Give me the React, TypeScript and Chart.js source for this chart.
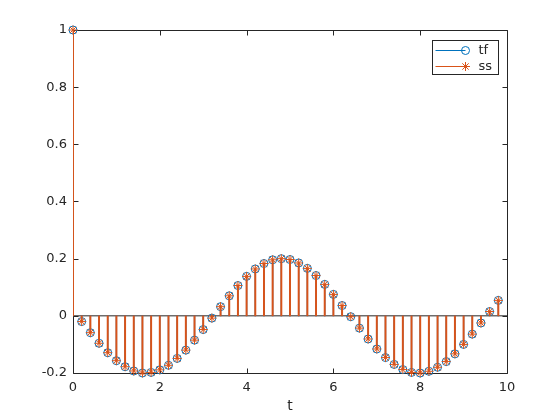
import React, { useEffect, useRef } from "react";
import { Chart, registerables } from "chart.js";

Chart.register(...registerables);

// ---- data ----
const timeSteps = [
  0, 0.2, 0.4, 0.6, 0.8, 1.0, 1.2, 1.4, 1.6, 1.8,
  2.0, 2.2, 2.4, 2.6, 2.8, 3.0, 3.2, 3.4, 3.6, 3.8,
  4.0, 4.2, 4.4, 4.6, 4.8, 5.0, 5.2, 5.4, 5.6, 5.8,
  6.0, 6.2, 6.4, 6.6, 6.8, 7.0, 7.2, 7.4, 7.6, 7.8,
  8.0, 8.2, 8.4, 8.6, 8.8, 9.0, 9.2, 9.4, 9.6, 9.8,
];

const tfResponse = [
  1, -0.020, -0.059, -0.096, -0.129, -0.157, -0.178, -0.193, -0.200, -0.198,
  -0.189, -0.173, -0.149, -0.120, -0.085, -0.048, -0.008, 0.032, 0.070, 0.106,
  0.138, 0.164, 0.183, 0.196, 0.200, 0.197, 0.185, 0.166, 0.141, 0.110,
  0.075, 0.036, -0.003, -0.043, -0.081, -0.116, -0.146, -0.170, -0.188, -0.198,
  -0.200, -0.194, -0.180, -0.160, -0.133, -0.100, -0.064, -0.025, 0.015, 0.054,
];

const ssResponse = [
  1, -0.020, -0.059, -0.096, -0.129, -0.157, -0.178, -0.193, -0.200, -0.198,
  -0.189, -0.173, -0.149, -0.120, -0.085, -0.048, -0.008, 0.032, 0.070, 0.106,
  0.138, 0.164, 0.183, 0.196, 0.200, 0.197, 0.185, 0.166, 0.141, 0.110,
  0.075, 0.036, -0.003, -0.043, -0.081, -0.116, -0.146, -0.170, -0.188, -0.198,
  -0.200, -0.194, -0.180, -0.160, -0.133, -0.100, -0.064, -0.025, 0.015, 0.054,
];

const xTickValues = [0, 2, 4, 6, 8, 10];
const yTickValues = [-0.2, 0, 0.2, 0.4, 0.6, 0.8, 1];
const seriesLabels = ["tf", "ss"];
const xAxisLabel = "t";
const baselineX = [0, 10];

// ---- styles ----
const BLUE = "#0072BD";
const ORANGE = "#D95319";
const AXIS = "#262626";
const FONT = "'DejaVu Sans', sans-serif";

function drawCircle(ctx: CanvasRenderingContext2D, x: number, y: number, r: number, color: string) {
  ctx.beginPath();
  ctx.strokeStyle = color;
  ctx.lineWidth = 1;
  ctx.arc(x, y, r, 0, Math.PI * 2);
  ctx.stroke();
}

function drawStar(ctx: CanvasRenderingContext2D, x: number, y: number, r: number, color: string) {
  const d = r * Math.cos(Math.PI / 4);
  ctx.beginPath();
  ctx.strokeStyle = color;
  ctx.lineWidth = 1;
  ctx.moveTo(x - r, y);
  ctx.lineTo(x + r, y);
  ctx.moveTo(x, y - r);
  ctx.lineTo(x, y + r);
  ctx.moveTo(x - d, y - d);
  ctx.lineTo(x + d, y + d);
  ctx.moveTo(x - d, y + d);
  ctx.lineTo(x + d, y - d);
  ctx.stroke();
}

const framePlugin = {
  id: "matlabFrame",
  beforeDatasetsDraw(chart: any) {
    const { ctx, chartArea } = chart;
    const { left, right, top, bottom } = chartArea;
    const xs = chart.scales.x;
    const ys = chart.scales.y;
    const L = Math.round(left) + 0.5;
    const R = Math.round(right) + 0.5;
    const T = Math.round(top) + 0.5;
    const B = Math.round(bottom) + 0.5;
    ctx.save();
    ctx.strokeStyle = AXIS;
    ctx.lineWidth = 1;
    ctx.beginPath();
    ctx.rect(L, T, R - L, B - T);
    ctx.stroke();
    const tl = 5;
    ctx.beginPath();
    for (const v of xTickValues) {
      const px = Math.round(xs.getPixelForValue(v)) + 0.5;
      ctx.moveTo(px, B);
      ctx.lineTo(px, B - tl);
      ctx.moveTo(px, T);
      ctx.lineTo(px, T + tl);
    }
    for (const v of yTickValues) {
      const py = Math.round(ys.getPixelForValue(v)) + 0.5;
      ctx.moveTo(L, py);
      ctx.lineTo(L + tl, py);
      ctx.moveTo(R, py);
      ctx.lineTo(R - tl, py);
    }
    ctx.stroke();
    ctx.restore();
  },
};

const legendPlugin = {
  id: "matlabLegend",
  afterDraw(chart: any) {
    const { ctx, chartArea } = chart;
    const bx = Math.round(chartArea.right) - 75 + 0.5;
    const by = Math.round(chartArea.top) + 10 + 0.5;
    const bw = 66;
    const bh = 34;
    ctx.save();
    ctx.fillStyle = "#ffffff";
    ctx.fillRect(bx, by, bw, bh);
    ctx.strokeStyle = AXIS;
    ctx.lineWidth = 1;
    ctx.strokeRect(bx, by, bw, bh);
    const colors = [BLUE, ORANGE];
    const rows = [by + 9.5, by + 25.5];
    seriesLabels.forEach((label, i) => {
      const y = Math.round(rows[i]) + 0.5;
      ctx.beginPath();
      ctx.strokeStyle = colors[i];
      ctx.lineWidth = 1;
      ctx.moveTo(bx + 3, y);
      ctx.lineTo(bx + 33, y);
      ctx.stroke();
      if (i === 0) drawCircle(ctx, bx + 33, y, 4, colors[i]);
      else drawStar(ctx, bx + 33, y, 4.5, colors[i]);
      ctx.fillStyle = AXIS;
      ctx.font = `13px ${FONT}`;
      ctx.textBaseline = "middle";
      ctx.textAlign = "left";
      ctx.fillText(label, bx + 46, y);
    });
    ctx.restore();
  },
};

function fmt(v: number) {
  return String(Number(v.toFixed(1)));
}

export default function App() {
  const canvasRef = useRef<HTMLCanvasElement | null>(null);

  useEffect(() => {
    document.body.style.margin = "0";
    const canvas = canvasRef.current;
    if (!canvas) return;
    const tfPoints = timeSteps.map((t, i) => ({ x: t, y: tfResponse[i] }));
    const ssPoints = timeSteps.map((t, i) => ({ x: t, y: ssResponse[i] }));

    const chart = new Chart(canvas, {
      type: "bar",
      data: {
        datasets: [
          {
            type: "line",
            label: "baseline",
            data: baselineX.map((x) => ({ x, y: 0 })),
            borderColor: AXIS,
            borderWidth: 1,
            pointRadius: 0,
            order: 6,
          } as any,
          {
            type: "bar",
            label: seriesLabels[0],
            data: tfPoints,
            backgroundColor: BLUE,
            borderWidth: 0,
            barThickness: 0.7,
            grouped: false,
            order: 5,
          } as any,
          {
            type: "line",
            label: seriesLabels[0] + " markers",
            data: tfPoints,
            showLine: false,
            pointStyle: "circle",
            pointRadius: 4,
            pointBorderWidth: 1,
            pointBorderColor: BLUE,
            pointBackgroundColor: "rgba(0,0,0,0)",
            borderColor: BLUE,
            clip: false,
            order: 4,
          } as any,
          {
            type: "bar",
            label: seriesLabels[1],
            data: ssPoints,
            backgroundColor: ORANGE,
            borderWidth: 0,
            barThickness: 1.3,
            grouped: false,
            order: 3,
          } as any,
          {
            type: "line",
            label: seriesLabels[1] + " markers",
            data: ssPoints,
            showLine: false,
            pointStyle: "star",
            pointRadius: 4.5,
            pointBorderWidth: 1,
            pointBorderColor: ORANGE,
            borderColor: ORANGE,
            clip: false,
            order: 2,
          } as any,
        ],
      },
      options: {
        responsive: false,
        animation: false,
        devicePixelRatio: 1,
        layout: { padding: { top: 30, right: 53, left: 0, bottom: 0 } },
        plugins: {
          legend: { display: false },
          tooltip: { enabled: false },
        },
        scales: {
          x: {
            type: "linear",
            min: 0,
            max: 10,
            offset: false,
            grid: { display: false, drawTicks: false },
            border: { display: false },
            ticks: {
              color: AXIS,
              font: { family: FONT, size: 13 },
              padding: 7,
              maxRotation: 0,
              autoSkip: false,
              callback: (v: any) => fmt(Number(v)),
            },
            afterBuildTicks: (s: any) => {
              s.ticks = xTickValues.map((v) => ({ value: v }));
            },
            afterFit: (s: any) => {
              s.height = 47;
            },
            title: {
              display: true,
              text: xAxisLabel,
              color: AXIS,
              font: { family: FONT, size: 14 },
              padding: { top: 0, bottom: 5.5 },
            },
          },
          y: {
            type: "linear",
            min: -0.2,
            max: 1,
            grid: { display: false, drawTicks: false },
            border: { display: false },
            ticks: {
              color: AXIS,
              font: { family: FONT, size: 13 },
              padding: 6,
              autoSkip: false,
              callback: (v: any) => fmt(Number(v)),
            },
            afterBuildTicks: (s: any) => {
              s.ticks = yTickValues.map((v) => ({ value: v }));
            },
            afterFit: (s: any) => {
              s.width = 73;
            },
          },
        },
      } as any,
      plugins: [framePlugin, legendPlugin],
    });

    return () => {
      chart.destroy();
    };
  }, []);

  return (
    <div style={{ width: 560, height: 420, background: "#ffffff" }}>
      <canvas ref={canvasRef} width={560} height={420} style={{ display: "block", width: 560, height: 420 }} />
    </div>
  );
}
